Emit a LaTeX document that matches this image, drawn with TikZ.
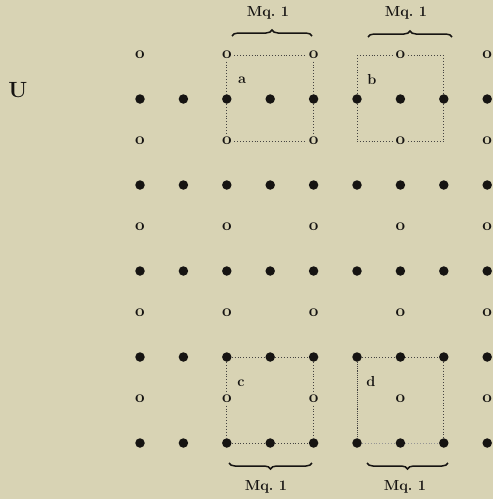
\documentclass[tikz,border=0pt]{standalone}
\usepackage{tikz}
\usepackage{xcolor}
\definecolor{papel}{RGB}{216, 211, 180}
\definecolor{tinta}{RGB}{22, 20, 18}
\usetikzlibrary{decorations.pathreplacing}

\begin{document}
\begin{tikzpicture}[x=1pt, y=-1pt,
    punto/.style={circle, fill=tinta, inner sep=0pt, minimum size=9.5pt},
    hueco/.style={font=\fontsize{17}{17}\bfseries, text=tinta, inner sep=2.5pt},
    borde/.style={dotted, line width=0.9pt, tinta!80},
    etiq/.style={font=\fontsize{14.5}{16}\bfseries, text=tinta, inner sep=1pt},
    llave/.style={decorate, decoration={brace, amplitude=6pt}, line width=1.5pt, tinta}]

% === Parámetros ===
\def\dx{43.4}    % Paso entre columnas
\def\dy{86}      % Paso entre filas de puntos
\def\xo{140}     % Primera columna
\def\yo{99}      % Primera fila de puntos

% === Fondo (papel) ===
\fill[papel] (0,0) rectangle (493,499);
\useasboundingbox (0,0) rectangle (493,499);

% Letra de la figura
\node[font=\fontsize{22}{22}\bfseries, text=tinta] (U) at (18,90) {U};

% === Puntos (negro sólido) ===
\foreach \j in {0,...,4}
  \foreach \i in {0,...,8}
    \node[punto] (d-\i-\j) at ({\xo+\i*\dx}, {\yo+\j*\dy}) {};

% === Huecos "o" (entre filas) ===
\foreach \j in {0,...,4}
  \foreach \i in {0,2,4,6,8}
    \node[hueco] (o-\i-\j) at ({\xo+\i*\dx}, {\yo-44+\j*\dy}) {o};

% Esquinas libres del recuadro b
\coordinate (b-nw) at ({\xo+5*\dx}, {\yo-44});
\coordinate (b-ne) at ({\xo+7*\dx}, {\yo-44});
\coordinate (b-sw) at ({\xo+5*\dx}, {\yo+42});
\coordinate (b-se) at ({\xo+7*\dx}, {\yo+42});

% === Recuadros punteados ===
% Recuadro a
\draw[borde] (o-2-0) -- (o-4-0);
\draw[borde] (o-2-1) -- (o-4-1);
\draw[borde] (o-2-0) -- (d-2-0) -- (o-2-1);
\draw[borde] (o-4-0) -- (d-4-0) -- (o-4-1);

% Recuadro b
\draw[borde] (b-nw) -- (o-6-0) -- (b-ne);
\draw[borde] (b-sw) -- (o-6-1) -- (b-se);
\draw[borde] (b-nw) -- (d-5-0) -- (b-sw);
\draw[borde] (b-ne) -- (d-7-0) -- (b-se);

% Recuadro c
\draw[borde] (d-2-3) -- (d-3-3) -- (d-4-3);
\draw[borde] (d-2-4) -- (d-3-4) -- (d-4-4);
\draw[borde] (d-2-3) -- (o-2-4) -- (d-2-4);
\draw[borde] (d-4-3) -- (o-4-4) -- (d-4-4);

% Recuadro d
\draw[borde] (d-5-3) -- (d-6-3) -- (d-7-3);
\draw[borde, tinta!45] (d-5-4) -- (d-6-4) -- (d-7-4);
\draw[borde, densely dotted] (d-5-3) -- (d-5-4);
\draw[borde] (d-7-3) -- (d-7-4);

% Etiquetas de recuadros
\node[etiq] (lab-a) at (242,80) {a};
\node[etiq] (lab-b) at (372,80) {b};
\node[etiq] (lab-c) at (241,383) {c};
\node[etiq] (lab-d) at (371,382) {d};

% === Llaves y rótulos ===
\draw[llave] (232,36) -- (312,36);
\draw[llave] (368,37) -- (452,37);
\draw[llave] (312,463) -- (229,463);
\draw[llave] (448,463) -- (367,463);

\node[etiq] (mq-a) at (268,13) {Mq.~1};
\node[etiq] (mq-b) at (406,13) {Mq.~1};
\node[etiq] (mq-c) at (266,487) {Mq.~1};
\node[etiq] (mq-d) at (405,487) {Mq.~1};

\end{tikzpicture}
\end{document}
